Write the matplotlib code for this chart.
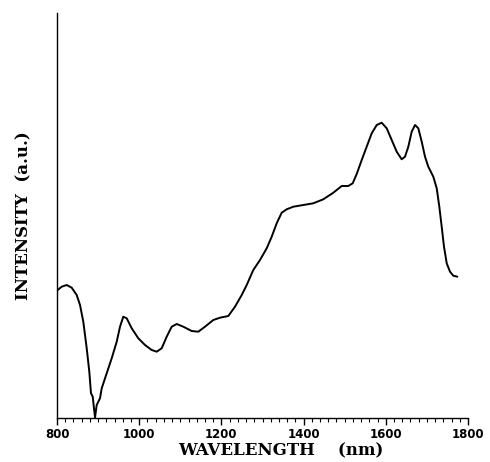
import matplotlib
matplotlib.use("Agg")
import matplotlib.pyplot as plt
from matplotlib.ticker import MultipleLocator

wavelength = [801.7, 811.4, 823.6, 835.8, 847.9, 856.0, 864.0, 872.3, 878.6, 882.7,
              886.9, 890.0, 892.5, 896.6, 900.5, 904.6, 908.8, 920.9, 933.1, 945.3,
              953.3, 961.3, 969.6, 981.8, 997.8, 1014.1, 1030.4, 1042.6, 1054.7, 1066.9,
              1079.1, 1091.2, 1107.3, 1127.7, 1143.8, 1160.1, 1180.3, 1196.6, 1216.8, 1233.1,
              1249.4, 1261.6, 1277.6, 1293.9, 1310.2, 1322.4, 1334.5, 1346.7, 1358.9, 1375.0,
              1399.3, 1423.6, 1447.9, 1472.3, 1492.7, 1508.8, 1519.5, 1529.2, 1541.4, 1553.5,
              1565.7, 1577.9, 1590.0, 1602.2, 1614.4, 1626.5, 1638.7, 1646.7, 1654.8, 1663.0,
              1671.1, 1679.1, 1687.4, 1695.4, 1703.4, 1715.6, 1723.9, 1730.2, 1736.0, 1741.6,
              1748.2, 1756.2, 1764.2, 1774.0]
intensity = [128.0, 131.3, 133.0, 130.3, 123.0, 113.0, 96.3, 69.7, 46.3, 24.7,
             21.3, 9.7, 0.5, 13.0, 16.3, 19.7, 29.7, 44.7, 59.7, 76.3,
             91.3, 101.3, 99.7, 89.7, 79.7, 73.0, 68.0, 66.3, 69.7, 81.3,
             91.3, 94.0, 91.3, 87.0, 86.3, 91.3, 98.0, 100.3, 102.0, 111.3,
             123.0, 133.0, 148.0, 158.0, 169.7, 181.3, 194.7, 205.3, 208.7, 211.3,
             213.0, 214.7, 218.7, 225.3, 232.0, 232.0, 234.7, 244.0, 258.0, 271.3,
             284.7, 293.0, 295.3, 289.7, 278.0, 266.3, 258.7, 261.3, 271.3, 286.3,
             293.0, 289.7, 276.3, 261.3, 251.3, 241.3, 229.7, 211.3, 191.3, 171.3,
             154.7, 146.3, 142.3, 141.3]
xticks = [800, 1000, 1200, 1400, 1600, 1800]

fig = plt.figure(figsize=(4.9, 4.62), dpi=100)
ax = fig.add_axes([57/490, 44/462, 411/490, 405/462])
ax.plot(wavelength, intensity, color="black", lw=1.4,
        solid_joinstyle="round", solid_capstyle="round")
ax.set_xlim(800, 1800)
ax.set_ylim(0, 405)

for s in ("top", "right"):
    ax.spines[s].set_visible(False)
ax.spines["left"].set_linewidth(1.0)
ax.spines["bottom"].set_linewidth(1.0)
ax.set_yticks([])
ax.set_xticks(xticks)
ax.set_xticklabels([str(t) for t in xticks])
ax.xaxis.set_minor_locator(MultipleLocator(20))
ax.tick_params(axis="x", which="major", direction="out", length=5, width=1.0, pad=2,
               labelsize=8.5)
ax.tick_params(axis="x", which="minor", direction="out", length=3, width=0.8)
for lab in ax.get_xticklabels():
    lab.set_fontfamily("DejaVu Sans")
    lab.set_fontweight("bold")

fig.text(281/490, 1 - 451/462, "WAVELENGTH    (nm)", ha="center", va="center",
         fontfamily="DejaVu Serif", fontweight="bold", fontsize=12)
fig.text(24/490, 1 - 216/462, "INTENSITY  (a.u.)", ha="center", va="center",
         rotation=90, fontfamily="DejaVu Serif", fontweight="bold", fontsize=12)

fig.savefig("out.png", dpi=100)
